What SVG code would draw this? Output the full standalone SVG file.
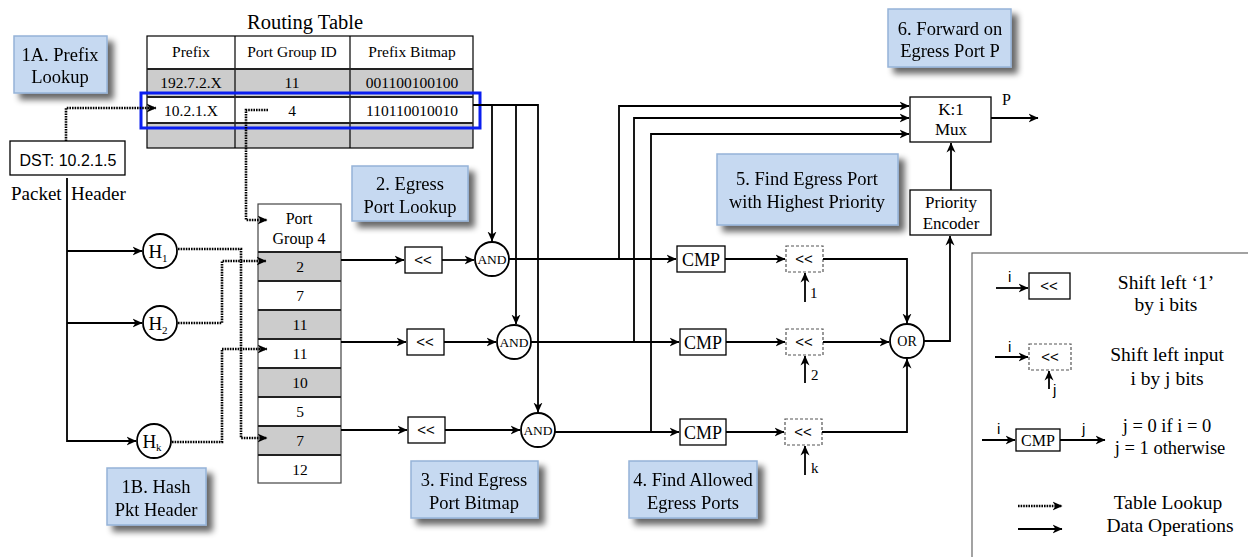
<svg xmlns="http://www.w3.org/2000/svg" width="1248" height="557" viewBox="0 0 1248 557">
  <style>
    .serif { font-family: "Liberation Serif", "Times New Roman", serif; fill: #000; }
    .sans { font-family: "Liberation Sans", Arial, sans-serif; fill: #000; }
    .tt { font-size: 15.5px; }
    .pg { font-size: 16px; }
    .co { font-size: 18.5px; }
    .lg { font-size: 19.5px; }
    .sh { font-size: 15px; }
    .mid { text-anchor: middle; }
    .callout { fill: #c6d9f1; stroke: #95b3d7; stroke-width: 1.5; }
    .box { fill: #fff; stroke: #000; stroke-width: 1.3; }
    .dbox { fill: #fff; stroke: #555; stroke-width: 1.2; stroke-dasharray: 3 2; }
    .grey { fill: #cccccc; }
    .wire { fill: none; stroke: #000; stroke-width: 1.8; }
    .dot { fill: none; stroke: #000; stroke-width: 2.6; stroke-dasharray: 1.6 1; }
    .sep { stroke: #222; stroke-width: 2; }
    .thin { stroke: #000; stroke-width: 1.2; }
    .gate { fill: #fff; stroke: #000; stroke-width: 1.8; }
  </style>
  <defs>
    <marker id="arr" viewBox="0 0 10 10" refX="9.5" refY="5" markerWidth="10" markerHeight="10" markerUnits="userSpaceOnUse" orient="auto">
      <path d="M0,0.5 L10,5 L0,9.5 L3,5 z" fill="#000"/>
    </marker>
    <filter id="shadow" x="-20%" y="-20%" width="150%" height="160%">
      <feGaussianBlur in="SourceAlpha" stdDeviation="3"/>
      <feOffset dx="6" dy="6" result="b"/>
      <feComponentTransfer><feFuncA type="linear" slope="0.6"/></feComponentTransfer>
      <feMerge><feMergeNode/><feMergeNode in="SourceGraphic"/></feMerge>
    </filter>
  </defs>
  <rect width="1248" height="557" fill="#fff"/>

  <!-- Routing table -->
  <g id="routing-table">
    <text class="serif mid" x="305" y="29" font-size="20.5">Routing Table</text>
    <rect x="147" y="36" width="326" height="33" fill="#fff"/>
    <rect class="grey" x="147" y="69" width="326" height="28"/>
    <rect x="147" y="97" width="326" height="26" fill="#fff"/>
    <rect class="grey" x="147" y="123" width="326" height="25"/>
    <rect x="147" y="36" width="326" height="112" fill="none" class="thin"/>
    <line class="thin" x1="235" y1="36" x2="235" y2="148"/>
    <line class="thin" x1="350" y1="36" x2="350" y2="148"/>
    <line class="sep" x1="147" y1="69" x2="473" y2="69"/>
    <line class="sep" x1="147" y1="97" x2="473" y2="97"/>
    <line class="sep" x1="147" y1="123" x2="473" y2="123"/>
    <text class="serif tt mid" x="191" y="57">Prefix</text>
    <text class="serif tt mid" x="292" y="57">Port Group ID</text>
    <text class="serif tt mid" x="412" y="57">Prefix Bitmap</text>
    <text class="serif tt mid" x="191" y="88">192.7.2.X</text>
    <text class="serif tt mid" x="292" y="88">11</text>
    <text class="serif tt mid" x="412" y="88">001100100100</text>
    <text class="serif tt mid" x="191" y="116">10.2.1.X</text>
    <text class="serif tt mid" x="292" y="116">4</text>
    <text class="serif tt mid" x="412" y="116">110110010010</text>
    <rect x="141" y="93" width="339" height="35" fill="none" stroke="#0a1ef0" stroke-width="3"/>
  </g>

  <!-- Packet header -->
  <g id="dst">
    <rect class="box" x="10" y="141" width="115" height="34"/>
    <text class="sans mid" x="68" y="166" font-size="16">DST: 10.2.1.5</text>
    <text class="serif" x="11" y="200" font-size="19">Packet</text>
    <text class="serif" x="71" y="200" font-size="19">Header</text>
  </g>

  <!-- Port group 4 -->
  <g id="port-group">
    <rect x="258" y="204" width="83" height="48" fill="#fff"/>
    <text class="serif pg mid" x="299" y="224">Port</text>
    <text class="serif pg mid" x="299" y="244">Group 4</text>
    <rect class="grey" x="258" y="252" width="83" height="29"/>
    <rect class="grey" x="258" y="310" width="83" height="29"/>
    <rect class="grey" x="258" y="368" width="83" height="29"/>
    <rect class="grey" x="258" y="426" width="83" height="29"/>
    <rect x="258" y="204" width="83" height="279" fill="none" stroke="#444" stroke-width="1.2"/>
    <line class="sep" x1="258" y1="252" x2="341" y2="252"/>
    <line class="sep" x1="258" y1="281" x2="341" y2="281" stroke-width="1.5"/>
    <line class="sep" x1="258" y1="310" x2="341" y2="310" stroke-width="1.5"/>
    <line class="sep" x1="258" y1="339" x2="341" y2="339" stroke-width="1.5"/>
    <line class="sep" x1="258" y1="368" x2="341" y2="368" stroke-width="1.5"/>
    <line class="sep" x1="258" y1="397" x2="341" y2="397" stroke-width="1.5"/>
    <line class="sep" x1="258" y1="426" x2="341" y2="426" stroke-width="1.5"/>
    <line class="sep" x1="258" y1="455" x2="341" y2="455" stroke-width="1.5"/>
    <text class="serif tt mid" x="300" y="272">2</text>
    <text class="serif tt mid" x="300" y="301">7</text>
    <text class="serif tt mid" x="300" y="330">11</text>
    <text class="serif tt mid" x="300" y="359">11</text>
    <text class="serif tt mid" x="300" y="388">10</text>
    <text class="serif tt mid" x="300" y="417">5</text>
    <text class="serif tt mid" x="300" y="446">7</text>
    <text class="serif tt mid" x="300" y="475">12</text>
  </g>

  <!-- Hash functions -->
  <g id="h1">
    <circle class="gate" cx="160" cy="251" r="17"/>
    <text class="serif mid" x="158" y="258" font-size="19">H<tspan font-size="11" dy="4">1</tspan></text>
  </g>
  <g id="h2">
    <circle class="gate" cx="160" cy="323" r="17"/>
    <text class="serif mid" x="158" y="330" font-size="19">H<tspan font-size="11" dy="4">2</tspan></text>
  </g>
  <g id="hk">
    <circle class="gate" cx="154" cy="441" r="17"/>
    <text class="serif mid" x="152" y="448" font-size="19">H<tspan font-size="11" dy="3">k</tspan></text>
  </g>

  <!-- Shift boxes -->
  <g id="shl1"><rect class="box" x="405" y="247" width="37" height="26"/><text class="sans sh mid" x="423" y="265">&lt;&lt;</text></g>
  <g id="shl2"><rect class="box" x="407" y="329" width="37" height="26"/><text class="sans sh mid" x="425" y="347">&lt;&lt;</text></g>
  <g id="shl3"><rect class="box" x="408" y="417" width="37" height="26"/><text class="sans sh mid" x="426" y="435">&lt;&lt;</text></g>

  <!-- AND gates -->
  <g id="and1"><circle class="gate" cx="492" cy="259" r="17"/><text class="serif mid" x="492" y="264" font-size="13.5">AND</text></g>
  <g id="and2"><circle class="gate" cx="514" cy="342" r="17"/><text class="serif mid" x="514" y="347" font-size="13.5">AND</text></g>
  <g id="and3"><circle class="gate" cx="538" cy="430" r="17"/><text class="serif mid" x="538" y="435" font-size="13.5">AND</text></g>

  <!-- Compare -->
  <g id="cmp1"><rect class="box" x="677" y="246" width="48" height="26"/><text class="serif mid" x="701" y="266" font-size="18">CMP</text></g>
  <g id="cmp2"><rect class="box" x="680" y="329" width="46" height="26"/><text class="serif mid" x="703" y="349" font-size="18">CMP</text></g>
  <g id="cmp3"><rect class="box" x="680" y="419" width="46" height="26"/><text class="serif mid" x="703" y="439" font-size="18">CMP</text></g>

  <!-- Variable shift boxes -->
  <g id="vshl1"><rect class="dbox" x="786" y="246" width="37" height="26"/><text class="sans sh mid" x="804" y="264">&lt;&lt;</text></g>
  <g id="vshl2"><rect class="dbox" x="786" y="329" width="37" height="26"/><text class="sans sh mid" x="804" y="347">&lt;&lt;</text></g>
  <g id="vshl3"><rect class="dbox" x="785" y="419" width="37" height="26"/><text class="sans sh mid" x="803" y="437">&lt;&lt;</text></g>

  <!-- OR gate -->
  <g id="or"><circle class="gate" cx="907" cy="341" r="17"/><text class="serif mid" x="907" y="346" font-size="14">OR</text></g>

  <!-- Mux and priority encoder -->
  <g id="mux">
    <rect class="box" x="910" y="97" width="81" height="45"/>
    <text class="serif mid" x="951" y="115" font-size="17">K:1</text>
    <text class="serif mid" x="951" y="135" font-size="17">Mux</text>
  </g>
  <g id="prio">
    <rect class="box" x="910" y="190" width="81" height="45"/>
    <text class="serif mid" x="951" y="208" font-size="17">Priority</text>
    <text class="serif mid" x="951" y="229" font-size="17">Encoder</text>
  </g>

  <!-- Connectors -->
  <g id="connectors">
    <!-- table lookups -->
    <path class="dot" d="M66,141 V108 H156" marker-end="url(#arr)"/>
    <path class="dot" d="M268,110 H246 V220 H267" marker-end="url(#arr)"/>
    <path class="dot" d="M178,249 H241 V438 H267" marker-end="url(#arr)"/>
    <path class="dot" d="M178,323 H222 V261 H266" marker-end="url(#arr)"/>
    <path class="dot" d="M172,442 H222 V349 H267" marker-end="url(#arr)"/>
    <!-- header to hashes -->
    <path class="wire" d="M67,178 V441 H136" marker-end="url(#arr)" stroke-width="1.5"/>
    <path class="wire" d="M67,251 H142" marker-end="url(#arr)" stroke-width="1.5"/>
    <path class="wire" d="M67,323 H142" marker-end="url(#arr)" stroke-width="1.5"/>
    <!-- port group to shifters -->
    <path class="wire" d="M341,260 H404" marker-end="url(#arr)"/>
    <path class="wire" d="M341,342 H406" marker-end="url(#arr)"/>
    <path class="wire" d="M341,430 H407" marker-end="url(#arr)"/>
    <!-- shifters to AND -->
    <path class="wire" d="M442,260 H474" marker-end="url(#arr)"/>
    <path class="wire" d="M444,342 H496" marker-end="url(#arr)"/>
    <path class="wire" d="M445,430 H520" marker-end="url(#arr)"/>
    <!-- prefix bitmap to AND -->
    <path class="wire" d="M473,105 H538 V412" marker-end="url(#arr)"/>
    <path class="wire" d="M492,105 V241" marker-end="url(#arr)"/>
    <path class="wire" d="M516,105 V324" marker-end="url(#arr)"/>
    <!-- AND to CMP -->
    <path class="wire" d="M509,259 H676" marker-end="url(#arr)"/>
    <path class="wire" d="M531,342 H679" marker-end="url(#arr)"/>
    <path class="wire" d="M555,432 H679" marker-end="url(#arr)"/>
    <!-- AND results to mux -->
    <path class="wire" d="M619,259 V106 H909" marker-end="url(#arr)"/>
    <path class="wire" d="M634,342 V118 H909" marker-end="url(#arr)"/>
    <path class="wire" d="M651,432 V134 H909" marker-end="url(#arr)"/>
    <!-- CMP to variable shifters -->
    <path class="wire" d="M725,259 H785" marker-end="url(#arr)"/>
    <path class="wire" d="M726,342 H785" marker-end="url(#arr)"/>
    <path class="wire" d="M726,432 H784" marker-end="url(#arr)"/>
    <!-- shift amounts -->
    <path class="wire" d="M805,302 V273" marker-end="url(#arr)"/>
    <path class="wire" d="M805,383 V356" marker-end="url(#arr)"/>
    <path class="wire" d="M805,475 V446" marker-end="url(#arr)"/>
    <!-- shifters to OR -->
    <path class="wire" d="M823,259 H907 V323" marker-end="url(#arr)"/>
    <path class="wire" d="M823,342 H889" marker-end="url(#arr)"/>
    <path class="wire" d="M822,432 H907 V359" marker-end="url(#arr)"/>
    <!-- OR to priority encoder to mux -->
    <path class="wire" d="M924,341 H950 V236" marker-end="url(#arr)"/>
    <path class="wire" d="M951,190 V143" marker-end="url(#arr)"/>
    <path class="wire" d="M991,118 H1038" marker-end="url(#arr)"/>
  </g>
  <text class="serif" x="1002" y="105" font-size="16">P</text>
  <text class="serif" x="810" y="298" font-size="15">1</text>
  <text class="serif" x="811" y="380" font-size="15">2</text>
  <text class="serif" x="811" y="473" font-size="15">k</text>

  <!-- Step callouts -->
  <g id="step1a" filter="url(#shadow)">
    <rect class="callout" x="14" y="36" width="93" height="57"/>
    <text class="serif co mid" x="60" y="61">1A. Prefix</text>
    <text class="serif co mid" x="60" y="83">Lookup</text>
  </g>
  <g id="step1b" filter="url(#shadow)">
    <rect class="callout" x="107" y="468" width="99" height="57"/>
    <text class="serif co mid" x="156" y="493">1B. Hash</text>
    <text class="serif co mid" x="156" y="516">Pkt Header</text>
  </g>
  <g id="step2" filter="url(#shadow)">
    <rect class="callout" x="352" y="166" width="116" height="55"/>
    <text class="serif co mid" x="410" y="190">2. Egress</text>
    <text class="serif co mid" x="410" y="213">Port Lookup</text>
  </g>
  <g id="step3" filter="url(#shadow)">
    <rect class="callout" x="411" y="461" width="127" height="57"/>
    <text class="serif co mid" x="474" y="486">3. Find Egress</text>
    <text class="serif co mid" x="474" y="509">Port Bitmap</text>
  </g>
  <g id="step4" filter="url(#shadow)">
    <rect class="callout" x="629" y="461" width="128" height="57"/>
    <text class="serif co mid" x="693" y="486">4. Find Allowed</text>
    <text class="serif co mid" x="693" y="509">Egress Ports</text>
  </g>
  <g id="step5" filter="url(#shadow)">
    <rect class="callout" x="717" y="154" width="181" height="71"/>
    <text class="serif co mid" x="807" y="185">5. Find Egress Port</text>
    <text class="serif co mid" x="807" y="208">with Highest Priority</text>
  </g>
  <g id="step6" filter="url(#shadow)">
    <rect class="callout" x="888" y="9" width="123" height="58"/>
    <text class="serif co mid" x="950" y="35">6. Forward on</text>
    <text class="serif co mid" x="950" y="57">Egress Port P</text>
  </g>

  <!-- Legend -->
  <g id="legend">
    <rect x="972" y="253" width="290" height="320" fill="#fff" stroke="#666" stroke-width="1.2"/>
    <text class="sans" x="1008" y="282" font-size="15">i</text>
    <path class="wire" d="M996,288 H1028" marker-end="url(#arr)"/>
    <rect class="box" x="1029" y="273" width="41" height="26" stroke="#555"/>
    <text class="sans sh mid" x="1049" y="291">&lt;&lt;</text>
    <text class="serif lg mid" x="1166" y="289">Shift left ‘1’</text>
    <text class="serif lg mid" x="1166" y="311">by i bits</text>

    <text class="sans" x="1008" y="352" font-size="15">i</text>
    <path class="wire" d="M995,357 H1028" marker-end="url(#arr)"/>
    <rect class="dbox" x="1029" y="344" width="42" height="26"/>
    <text class="sans sh mid" x="1050" y="362">&lt;&lt;</text>
    <path class="wire" d="M1049,389 V371" marker-end="url(#arr)"/>
    <text class="sans" x="1053" y="395" font-size="15">j</text>
    <text class="serif lg mid" x="1167" y="361">Shift left input</text>
    <text class="serif lg mid" x="1167" y="385">i by j bits</text>

    <text class="sans" x="997" y="434" font-size="15">i</text>
    <path class="wire" d="M982,440 H1015" marker-end="url(#arr)"/>
    <rect class="box" x="1016" y="429" width="44" height="22" stroke="#555"/>
    <text class="serif mid" x="1038" y="446" font-size="16">CMP</text>
    <text class="sans" x="1082" y="434" font-size="15">j</text>
    <path class="wire" d="M1060,440 H1105" marker-end="url(#arr)"/>
    <text class="serif mid" x="1167" y="432" font-size="18.5">j = 0 if i = 0</text>
    <text class="serif mid" x="1170" y="454" font-size="18.5">j = 1 otherwise</text>

    <path class="dot" d="M1018,506 H1062" marker-end="url(#arr)"/>
    <text class="serif lg mid" x="1168" y="509">Table Lookup</text>
    <path class="wire" d="M1018,529 H1062" marker-end="url(#arr)"/>
    <text class="serif lg mid" x="1170" y="532">Data Operations</text>
  </g>
</svg>
